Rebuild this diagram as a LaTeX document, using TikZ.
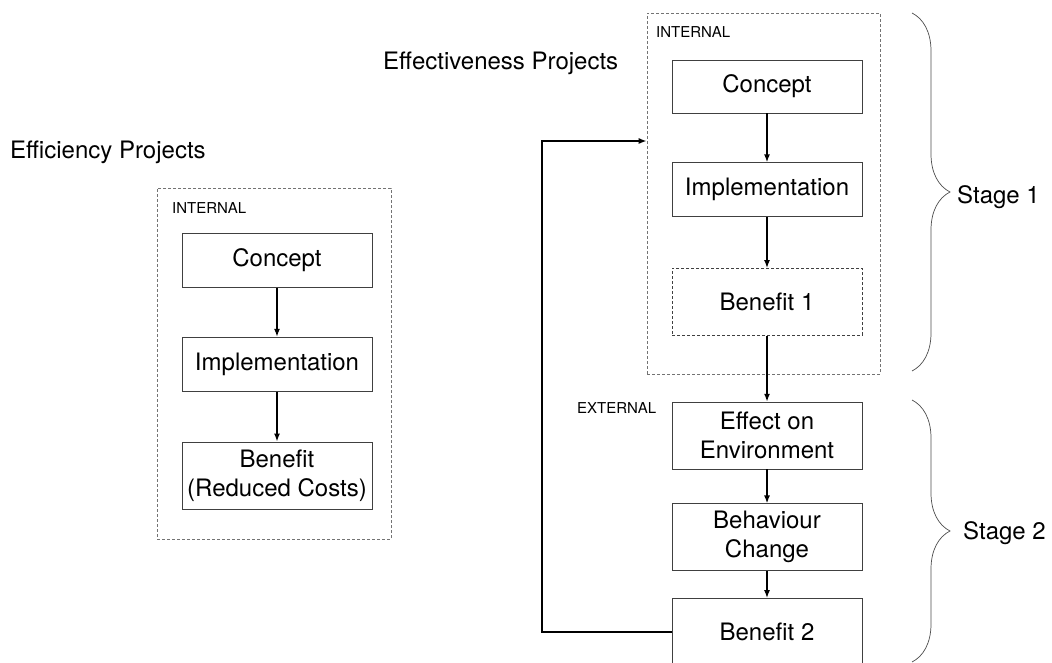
\documentclass[tikz,border=0pt]{standalone}
\usepackage{fontspec}
\setmainfont{TeX Gyre Heros}
\usetikzlibrary{arrows.meta, positioning, decorations.pathreplacing}

\begin{document}
\begin{tikzpicture}[
  x=1pt, y=-1pt,
  font=\fontsize{24}{29}\selectfont,
  node distance=49pt,
  box/.style={draw=black!75, line width=0.7pt, align=center, minimum width=190pt, minimum height=54pt, inner sep=0pt},
  tallbox/.style={box, minimum height=67pt},
  frame/.style={draw=black!55, dash pattern=on 3pt off 2pt, line width=0.6pt, inner sep=0pt},
  tag/.style={font=\fontsize{15}{18}\selectfont, anchor=west, inner sep=0pt},
  title/.style={anchor=west, inner sep=0pt},
  arrow/.style={-{Latex[length=8pt,width=6pt]}, line width=1.5pt},
  stagebrace/.style={draw=black!70, line width=0.7pt, decorate, decoration={brace, amplitude=38pt}}
]
\useasboundingbox (0,0) rectangle (1052,663);
% efficiency projects
\node[title] (efftitle) at (10,152) {Efficiency Projects};
\node[frame, minimum width=234pt, minimum height=351pt] (effin) at (274,363.5) {};
\node[tag] (efftag) at (172,208) {INTERNAL};
\node[box] (ec) at (277,260.5) {Concept};
\node[box, below=of ec] (ei) {Implementation};
\node[tallbox, below=50pt of ei] (eb) {Benefit\\(Reduced Costs)};
\draw[arrow] (ec) -- (ei);
\draw[arrow] (ei) -- (eb);
% effectiveness projects
\node[title] (fxtitle) at (383,63) {Effectiveness Projects};
\node[frame, minimum width=233pt, minimum height=361pt] (fxin) at (763.5,193.5) {};
\node[tag] (fxtag) at (656,32) {INTERNAL};
\node[tag] (fxext) at (577,408) {EXTERNAL};
\node[box, minimum height=53pt] (fc) at (767,86.5) {Concept};
\node[box, below=of fc] (fi) {Implementation};
\node[tallbox, dashed, dash pattern=on 3pt off 2pt, below=51pt of fi] (fb1) {Benefit 1};
\node[tallbox, below=66pt of fb1] (fe) {Effect on\\Environment};
\node[tallbox, below=34pt of fe] (fbc) {Behaviour\\Change};
\node[tallbox, below=27pt of fbc] (fb2) {Benefit 2};
\draw[arrow] (fc) -- (fi);
\draw[arrow] (fi) -- (fb1);
\draw[arrow] (fb1) -- (fe);
\draw[arrow] (fe) -- (fbc);
\draw[arrow] (fbc) -- (fb2);
% feedback loop
\coordinate (fbk) at (542,141);
\draw[arrow] (fb2.west) -| (fbk) -- (fbk -| fxin.west);
% stages
\draw[stagebrace] (912,13) -- (912,371);
\draw[stagebrace] (912,400) -- (912,662);
\node[title] (st1) at (957,197) {Stage 1};
\node[title] (st2) at (963,533) {Stage 2};
\end{tikzpicture}
\end{document}
